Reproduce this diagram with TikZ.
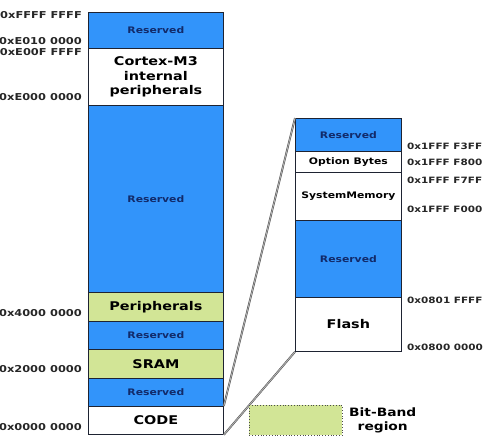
\documentclass[tikz,border=0pt]{standalone}
\usepackage{fontspec}
\setmainfont{DejaVu Sans}[FakeStretch=1.2]
\definecolor{memblue}{RGB}{50,148,250}
\definecolor{memgreen}{RGB}{210,229,150}
\definecolor{navytxt}{RGB}{18,42,105}
\definecolor{edge}{RGB}{30,35,50}
\begin{document}
\begin{tikzpicture}[x=1pt,y=-1pt,
  blk/.style={draw=edge,line width=0.8pt,anchor=north west,inner sep=0pt,
    font=\bfseries\fontsize{12}{14.5}\selectfont,align=center},
  resv/.style={blk,fill=memblue,text=navytxt,font=\bfseries\fontsize{9}{11}\selectfont},
  wht/.style={blk,fill=white},
  grn/.style={blk,fill=memgreen},
  small/.style={blk,fill=white,font=\bfseries\fontsize{9}{11}\selectfont},
  addr/.style={inner sep=0pt,font=\bfseries\fontsize{9.5}{11}\selectfont,text=black!85},
  raddr/.style={inner sep=0pt,anchor=west,font=\bfseries\fontsize{8.7}{10}\selectfont,text=black!85},
  conn/.style={draw=black!70,line width=0.5pt,double=black!30,double distance=0.9pt}]
\useasboundingbox (0,0) rectangle (484,437);
% left column
\node[resv,minimum width=135pt,minimum height=36pt] (lr1) at (88,12) {Reserved};
\node[wht,minimum width=135pt,minimum height=57pt] (cm3) at (88,48) {Cortex-M3\\internal\\peripherals};
\node[resv,minimum width=135pt,minimum height=187pt] (lr2) at (88,105) {Reserved};
\node[grn,minimum width=135pt,minimum height=29pt] (per) at (88,292) {Peripherals};
\node[resv,minimum width=135pt,minimum height=28pt] (lr3) at (88,321) {Reserved};
\node[grn,minimum width=135pt,minimum height=29pt] (sram) at (88,349) {SRAM};
\node[resv,minimum width=135pt,minimum height=28pt] (lr4) at (88,378) {Reserved};
\node[wht,minimum width=135pt,minimum height=28pt] (code) at (88,406) {CODE};
% left addresses
\node[addr,anchor=east] (a1) at (82,15) {0xFFFF FFFF};
\node[addr,anchor=east] (a2) at (82,41) {0xE010 0000};
\node[addr,anchor=east] (a3) at (82,52) {0xE00F FFFF};
\node[addr,anchor=east] (a4) at (82,97) {0xE000 0000};
\node[addr,anchor=east] (a5) at (82,313) {0x4000 0000};
\node[addr,anchor=east] (a6) at (82,369) {0x2000 0000};
\node[addr,anchor=east] (a7) at (82,427) {0x0000 0000};
% right column
\node[resv,minimum width=106pt,minimum height=33pt] (rr1) at (295,118) {Reserved};
\node[small,minimum width=106pt,minimum height=21pt] (opt) at (295,151) {Option Bytes};
\node[small,minimum width=106pt,minimum height=48pt] (sys) at (295,172) {SystemMemory};
\node[resv,minimum width=106pt,minimum height=77pt] (rr2) at (295,220) {Reserved};
\node[wht,minimum width=106pt,minimum height=54pt] (flash) at (295,297) {Flash};
% right addresses
\node[raddr] (b1) at (407,146) {0x1FFF F3FF};
\node[raddr] (b2) at (407,162) {0x1FFF F800};
\node[raddr] (b3) at (407,180) {0x1FFF F7FF};
\node[raddr] (b4) at (407,209) {0x1FFF F000};
\node[raddr] (b5) at (407,300) {0x0801 FFFF};
\node[raddr] (b6) at (407,347) {0x0800 0000};
% connectors
\draw[conn] (rr1.north west) -- (code.north east);
\draw[conn] (flash.south west) -- (code.south east);
% legend
\node[draw=black!70,dotted,line width=0.8pt,fill=memgreen,anchor=north west,
  minimum width=93pt,minimum height=30pt,inner sep=0pt] (leg) at (249,405) {};
\node[inner sep=0pt,align=center,font=\bfseries\fontsize{11.5}{14}\selectfont,
  anchor=west] (legt) at (349,420) {Bit-Band\\region};
\end{tikzpicture}
\end{document}
